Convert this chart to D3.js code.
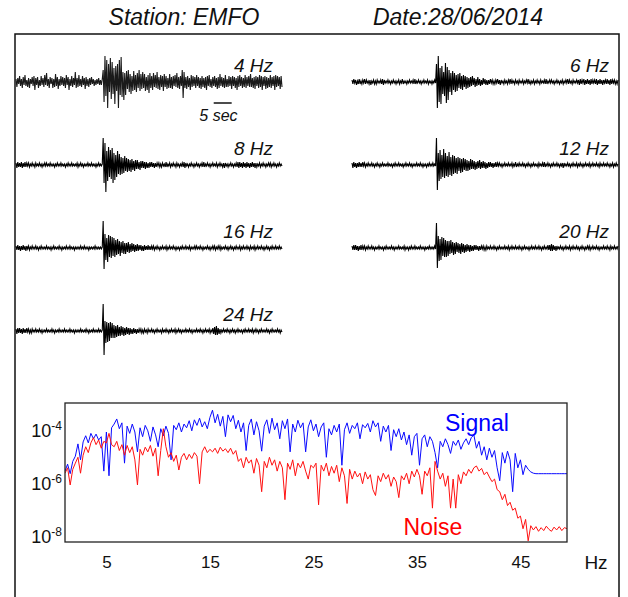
<!DOCTYPE html>
<html>
<head>
<meta charset="utf-8">
<script src="https://cdn.jsdelivr.net/npm/d3@7"></script>
<style>
  body { margin: 0; background: #fff; }
  text { font-family: 'Liberation Sans', Arial, sans-serif; }
</style>
</head>
<body>
<svg id="chart" width="628" height="597"></svg>
<script>
// ---- Record metadata ----
const station = "EMFO";
const recordDate = "28/06/2014";

// ---- Band-pass filtered seismograms (counts, 0.25 s sampling, 74 s window) ----
const sampleInterval = 0.25;
const windowLength = 74;

const trace4Hz = [
  3,-5,4,-2,6,-4,3,-6,5,-3,
  7,-4,2,-5,4,-6,3,-2,5,-4,
  6,-8,4,-3,5,-6,2,-4,6,-3,
  4,-5,7,-3,9,-4,3,-6,5,-2,
  4,-6,3,-5,8,-4,5,-7,3,-4,
  6,-3,5,-4,4,-6,7,-3,5,-8,
  3,-4,6,-5,4,-3,10,-6,4,-5,
  7,-4,3,-5,6,-3,4,-7,5,-4,
  3,-5,4,-3,5,-2,3,-4,2,-3,
  3,-2,4,-3,2,-3,3,
  12,-20,26,-14,22,-26,18,-10,24,-17,
  20,-12,14,-22,16,-9,18,-26,22,-13,
  25,-15,10,-18,
  9,-13,11,-7,12,-10,8,-12,6,-9,
  11,-8,7,-10,9,-6,12,-9,8,-7,
  10,-6,8,-9,5,-8,7,-11,9,-6,
  6,-8,9,-5,7,-6,10,-7,5,-8,
  7,-5,6,-9,8,-5,6,-7,4,-6,
  8,-6,5,-7,6,-4,7,-5,9,-6,
  5,-7,6,-4,12,-16,10,-6,5,-7,
  6,-5,4,-8,7,-5,6,-4,5,-6,
  7,-4,5,-6,4,-7,6,-5,4,-6,
  5,-8,6,-4,7,-5,3,-6,5,-4,
  6,-5,4,-7,5,-6,8,-4,5,-5,
  4,-6,7,-5,3,-5,6,-4,5,-7,
  6,-4,5,-6,4,-8,6,-5,7,-4,
  5,-6,4,-5,7,-6,5,-4,6,-5,
  8,-5,4,-6,5,-7,6,-4,5,-6,
  7,-5,6,-8,5,-4,6,-7,5,-6,
  4,-5,7,-6,5,-4,6,-8,7,-5,
  6,-4,5,-7,6,-5
];

const trace6Hz = [
  2,-2,3,-1,2,-3,1,-2,3,-2,
  1,-2,2,-1,3,-2,2,-1,1,-2,
  2,-3,1,-1,2,-2,1,-2,2,-1,
  1,-1,2,-2,3,-3,2,-1,1,-1,
  2,-1,1,-2,1,-1,2,-1,1,-2,
  1,-1,2,-2,1,-1,3,-2,1,-1,
  1,-2,1,-1,2,-1,1,-1,2,-2,
  3,-2,1,-1,2,-1,1,-2,1,-1,
  2,-1,1,-1,2,-2,1,-1,1,-2,
  1,-1,2,-1,
  18,-26,26,-20,14,-22,16,-12,10,-14,
  19,-21,15,-18,12,-10,9,-13,
  11,-8,9,-10,7,-9,8,-6,9,-7,
  6,-8,7,-5,6,-7,5,-6,4,-5,
  5,-4,6,-3,4,-5,3,-4,5,-3,
  3,-4,2,-3,4,-2,3,-3,2,-3,
  2,-2,3,-1,2,-2,1,-2,2,-1,
  3,-2,2,-3,2,-1,1,-2,2,-1,
  1,-2,2,-1,3,-2,2,-1,1,-2,
  2,-1,1,-2,2,-1,1,-1,2,-2,
  1,-1,2,-1,3,-2,1,-2,1,-1,
  2,-2,1,-1,2,-1,1,-2,2,-1,
  1,-1,2,-2,3,-2,1,-1,2,-1,
  2,-1,1,-2,1,-1,2,-1,1,-2,
  1,-1,2,-2,1,-1,2,-1,3,-2,
  2,-1,1,-2,2,-1,1,-1,2,-1,
  2,-3,3,-2,2,-1,3,-3,2,-2,
  3,-2,2,-3,3,-2,2,-1,2,-2,
  3,-3,2,-2,3,-2,2,-3,2,-1,
  2,-2,3,-2,2,-3,3,-2,2,-1,
  2,-2,1,-2,2
];

const trace8Hz = [
  2,-3,3,-2,2,-2,3,-3,2,-2,
  3,-2,2,-1,2,-2,1,-1,2,-1,
  1,-2,2,-1,1,-1,2,-1,1,-2,
  1,-1,2,-1,2,-1,1,-1,2,-1,
  1,-1,1,-2,1,-1,2,-1,1,-1,
  2,-1,1,-1,1,-2,1,-1,2,-1,
  1,-1,2,-1,1,-1,1,-1,2,-2,
  1,-1,2,-1,1,-2,1,-1,1,-1,
  2,-1,1,-1,2,-1,1,-1,1,-2,
  1,-1,2,-1,1,-1,1,
  27,-18,22,-27,14,-16,18,-12,15,-14,
  17,-18,12,-15,10,-12,14,-9,11,
  -10,8,-9,7,-8,9,-6,7,-7,6,
  -6,5,-7,6,-5,4,-6,5,-4,5,
  -4,3,-5,4,-3,4,-3,3,-4,3,
  -3,2,-3,3,-2,3,-2,2,-3,2,
  -2,2,-1,2,-2,1,-2,2,-1,1,
  -2,3,-2,1,-1,2,-2,1,-1,2,
  -1,1,-2,2,-1,1,-2,1,-1,2,
  -2,3,-3,2,-1,1,-2,1,-1,2,
  -1,1,-2,1,-1,2,-1,1,-2,1,
  -1,2,-2,3,-2,1,-1,2,-1,1,
  -2,1,-1,2,-1,1,-1,2,-2,1,
  -1,2,-1,1,-2,2,-3,2,-1,1,
  -2,1,-1,2,-1,1,-2,1,-1,2,
  -2,3,-3,3,-2,2,-3,3,-2,2,
  -3,3,-2,2,-3,2,-2,3,-2,2,
  -3,2,-2,1,-1,2,-2,1,-1,2,
  -1,1,-2,1,-1,2,-1,2,-2,1,
  -1,2,-1,1,-2,1,-1,2,-1,1,
  -1
];

const trace12Hz = [
  2,-3,3,-2,2,-3,2,-2,3,-2,
  2,-2,3,-1,2,-2,1,-1,2,-1,
  1,-1,2,-1,1,-2,1,-1,2,-1,
  1,-2,1,-1,2,-1,1,-1,1,-1,
  2,-1,1,-1,1,-2,1,-1,2,-1,
  1,-1,2,-1,1,-1,1,-2,1,-1,
  2,-1,1,-1,2,-1,1,-2,1,-1,
  1,-1,2,-1,1,-1,2,-1,1,-2,
  1,-1,1,-2,1,-1,2,-1,1,-1,
  2,-1,1,-1,
  27,-25,12,-16,15,-14,10,-12,16,-13,
  12,-11,9,-12,13,-10,8,-11,10,-9,
  9,-8,7,-9,8,-6,7,-8,6,-7,
  7,-5,6,-6,5,-6,4,-5,6,-4,
  5,-4,4,-5,3,-4,4,-3,5,-4,
  3,-3,4,-3,3,-4,2,-3,3,-2,
  3,-2,2,-3,2,-2,3,-2,2,-1,
  2,-1,1,-2,1,-1,2,-1,1,-1,
  2,-1,1,-1,2,-2,1,-1,3,-2,
  1,-1,2,-1,1,-1,2,-1,1,-2,
  1,-1,2,-1,1,-2,1,-1,2,-1,
  1,-1,1,-2,2,-1,1,-1,2,-2,
  3,-2,1,-1,2,-1,1,-2,1,-1,
  2,-1,1,-1,2,-1,1,-2,1,-1,
  2,-3,2,-1,1,-1,2,-1,1,-2,
  1,-1,2,-1,1,-1,2,-2,1,-1,
  2,-1,1,-2,1,-1,2,-1,1,-1,
  2,-2,1,-1,2,-1,1,-1,2,-1,
  1,-2,2,-1,1,-1,2,-1,1,-1,
  2,-1,1,-2,1,-1,2,-2,1,-1,
  2,-1,1
];

const trace16Hz = [
  2,-2,3,-2,2,-3,2,-2,3,-2,
  2,-3,2,-1,2,-2,1,-1,2,-1,
  1,-1,2,-1,1,-2,1,-1,2,-1,
  1,-1,1,-1,2,-1,1,-1,1,-2,
  1,-1,2,-1,1,-1,1,-1,2,-1,
  1,-2,1,-1,1,-1,2,-1,1,-1,
  2,-1,1,-1,1,-2,1,-1,1,-1,
  1,-1,2,-1,1,-1,2,-1,1,-1,
  1,-2,1,-1,1,-1,1,-1,2,-1,
  1,-1,1,-1,1,-1,1,
  27,-21,14,-12,10,-14,13,-9,12,-10,
  11,-8,10,-9,
  8,-7,9,-6,7,-8,6,-5,7,-6,
  5,-6,5,-4,6,-5,4,-4,5,-3,
  4,-4,3,-3,4,-3,3,-2,3,-3,
  2,-3,3,-2,2,-2,3,-2,2,-2,
  2,-1,2,-2,1,-1,2,-1,1,-2,
  1,-1,2,-1,1,-1,2,-2,1,-1,
  2,-1,1,-1,2,-1,1,-2,1,-1,
  1,-2,1,-1,2,-1,1,-1,2,-1,
  1,-1,2,-2,1,-1,1,-1,2,-1,
  2,-1,1,-1,2,-1,1,-2,1,-1,
  1,-1,2,-1,1,-2,1,-1,2,-1,
  2,-2,1,-1,2,-1,2,-2,1,-1,
  1,-1,2,-1,1,-2,1,-1,2,-1,
  1,-2,1,-1,2,-1,1,-1,2,-2,
  1,-1,2,-1,1,-1,2,-1,1,-2,
  2,-1,1,-1,2,-2,1,-1,2,-1,
  1,-1,2,-1,1,-2,1,-1,2,-1,
  1,-2,1,-1,2,-1,1,-1,2,-1,
  1,-1,2,-1,1,-1
];

const trace20Hz = [
  2,-2,3,-2,3,-2,2,-3,2,-2,
  3,-2,2,-1,2,-2,1,-1,2,-1,
  1,-1,2,-1,1,-2,1,-1,1,-1,
  2,-1,1,-1,1,-2,1,-1,2,-1,
  1,-1,1,-1,2,-1,1,-2,1,-1,
  1,-1,2,-1,1,-1,1,-1,2,-2,
  1,-1,1,-2,1,-1,2,-1,1,-1,
  2,-1,1,-1,1,-1,2,-1,1,-1,
  1,-2,1,-1,1,-1,2,-1,1,-1,
  1,-1,2,-1,
  25,-20,12,-13,9,-12,11,-8,10,-9,
  8,-9,7,-8,
  7,-6,8,-5,6,-7,5,-6,6,-4,
  5,-5,4,-6,5,-4,4,-5,3,-4,
  4,-3,3,-4,3,-3,2,-3,3,-2,
  3,-2,2,-3,2,-2,2,-1,2,-2,
  1,-2,2,-1,1,-1,2,-1,1,-1,
  2,-1,1,-2,1,-1,2,-1,1,-1,
  1,-1,2,-1,1,-1,2,-2,1,-1,
  2,-1,1,-1,2,-1,1,-1,2,-1,
  1,-2,1,-1,2,-1,1,-1,1,-2,
  1,-1,2,-1,1,-1,2,-1,1,-1,
  2,-1,1,-2,1,-1,2,-1,1,-1,
  3,-2,3,-3,4,-3,3,-2,2,-3,
  2,-1,1,-1,2,-1,1,-2,1,-1,
  2,-1,1,-1,2,-2,1,-1,2,-1,
  1,-1,2,-1,1,-2,1,-1,2,-1,
  1,-2,1,-1,2,-1,2,-2,1,-1,
  2,-1,1,-1,2,-1,1,-2,1,-1,
  1,-1,2,-1,1,-1,2,-1,1,-2,
  2,-1,1,-1,2,-1,1,-1,2
];

const trace24Hz = [
  2,-3,3,-2,3,-2,2,-3,3,-2,
  2,-2,3,-1,2,-2,1,-2,2,-1,
  1,-1,2,-1,1,-1,2,-1,1,-2,
  1,-1,1,-1,2,-1,1,-1,1,-1,
  2,-1,1,-2,1,-1,1,-1,2,-1,
  1,-1,1,-1,2,-1,1,-1,1,-1,
  2,-1,1,-1,1,-2,1,-1,1,-1,
  1,-1,2,-1,1,-1,1,-1,2,-1,
  1,-2,1,-1,1,-1,2,-1,1,-1,
  1,-1,2,-1,1,-1,1,
  27,-24,10,-12,9,-11,8,-10,9,-7,
  8,-7,
  6,-7,5,-6,6,-5,4,-5,5,-4,
  4,-5,3,-4,4,-3,3,-4,3,-3,
  2,-3,3,-2,2,-3,2,-2,2,-1,
  2,-2,1,-2,2,-1,1,-2,2,-1,
  1,-1,2,-1,1,-2,1,-1,2,-1,
  1,-1,1,-2,2,-1,1,-1,2,-1,
  1,-2,1,-1,2,-1,1,-1,2,-2,
  1,-1,2,-1,1,-2,1,-1,1,-1,
  2,-1,1,-1,2,-1,1,-2,1,-1,
  1,-1,2,-1,1,-1,2,-1,1,-2,
  1,-1,2,-1,1,-1,2,-2,1,-1,
  3,-3,4,-4,5,-4,3,-3,2,-2,
  1,-1,2,-1,1,-1,2,-1,1,-2,
  1,-1,2,-1,1,-2,1,-1,2,-1,
  1,-1,1,-2,1,-1,2,-1,1,-1,
  2,-1,1,-1,2,-2,1,-1,2,-1,
  1,-2,1,-1,2,-1,1,-1,1,-1,
  2,-1,1,-2,1,-1,2,-1,1,-1,
  1,-1,2,-1,1,-2,1,-1
];

// panel layout: column 0 = left, column 1 = right
const traceLabels = ["4 Hz", "8 Hz", "16 Hz", "24 Hz", "6 Hz", "12 Hz", "20 Hz"];
const traceData   = [trace4Hz, trace8Hz, trace16Hz, trace24Hz, trace6Hz, trace12Hz, trace20Hz];
const traceColumn = [0, 0, 0, 0, 1, 1, 1];
const traceRow    = [0, 1, 2, 3, 0, 1, 2];

// ---- Amplitude spectra (1 to 49.5 Hz, 0.25 Hz bins) ----
const freqStart = 1, freqStep = 0.25;
const signalSpectrum = [
  3.0e-6, 5.5e-6, 2.4e-6, 7.0e-6,
  1.1e-5, 3.2e-5, 8.0e-6, 3.8e-5,
  6.5e-5, 3.5e-5, 8.0e-5, 5.0e-5,
  7.5e-5, 4.5e-5, 6.0e-5, 3.0e-6,
  9.0e-5, 2.0e-6, 1.3e-4, 1.8e-4,
  2.8e-4, 1.2e-4, 2.0e-4, 6.0e-6,
  1.5e-4, 8.0e-5, 1.8e-4, 9.0e-5,
  1.6e-5, 1.3e-4, 6.0e-5, 1.6e-4,
  1.0e-4, 4.0e-5, 1.4e-4, 7.0e-5,
  2.5e-5, 1.2e-4, 6.5e-5, 1.5e-4,
  8.0e-5, 8.0e-6, 1.6e-4, 1.1e-4,
  2.0e-4, 9.0e-5, 1.8e-4, 1.3e-4,
  2.4e-4, 1.0e-4, 2.6e-4, 1.6e-4,
  3.0e-4, 1.4e-4, 2.2e-4, 1.2e-4,
  3.2e-4, 6.0e-4, 2.0e-4, 4.2e-4,
  1.5e-4, 3.5e-4, 6.0e-5, 4.0e-4,
  2.2e-4, 3.8e-4, 1.2e-4, 2.5e-4,
  9.0e-5, 2.0e-4, 1.8e-5, 1.6e-4,
  2.8e-4, 7.0e-5, 2.2e-4, 1.0e-4,
  1.7e-5, 1.5e-4, 2.6e-4, 8.0e-5,
  3.0e-4, 1.1e-4, 2.0e-4, 5.0e-5,
  2.4e-4, 1.2e-4, 2.8e-4, 1.6e-5,
  1.8e-4, 9.0e-5, 2.5e-4, 1.3e-4,
  2.0e-4, 1.6e-5, 1.4e-4, 2.6e-4,
  1.0e-4, 1.8e-4, 6.0e-5, 1.4e-4,
  2.0e-4, 1.0e-5, 1.2e-4, 7.0e-5,
  1.6e-4, 9.0e-5, 1.8e-4, 5.0e-6,
  1.1e-4, 2.0e-4, 8.0e-5, 1.6e-4,
  1.2e-4, 2.0e-4, 5.0e-5, 1.7e-4,
  1.3e-4, 1.9e-4, 9.0e-5, 2.4e-4,
  1.4e-4, 2.0e-4, 4.0e-5, 1.5e-4,
  9.0e-5, 1.6e-4, 1.8e-5, 1.1e-4,
  6.0e-5, 1.2e-4, 4.5e-5, 9.0e-5,
  3.0e-5, 7.0e-5, 1.2e-5, 6.0e-5,
  8.0e-5, 5.0e-6, 5.0e-5, 7.0e-5,
  2.5e-5, 6.0e-5, 4.0e-5, 1.5e-5,
  4.0e-6, 4.0e-5, 2.5e-5, 5.0e-5,
  3.0e-5, 1.4e-5, 4.0e-5, 2.8e-5,
  4.5e-5, 2.0e-5, 3.5e-5, 5.0e-5,
  3.0e-5, 5.5e-5, 7.0e-5, 2.2e-5,
  4.0e-5, 1.2e-5, 2.5e-5, 8.0e-6,
  2.2e-5, 1.0e-5, 1.8e-5, 4.0e-6,
  1.3e-6, 1.5e-5, 6.0e-6, 1.7e-5,
  8.0e-6, 5.0e-7, 1.4e-5, 4.0e-6,
  8.0e-6, 2.2e-6, 5.0e-6, 3.5e-6,
  2.8e-6, 2.5e-6, 2.4e-6, 2.4e-6,
  2.4e-6, 2.4e-6, 2.4e-6, 2.4e-6,
  2.4e-6, 2.4e-6, 2.4e-6, 2.4e-6,
  2.4e-6, 2.4e-6, 2.4e-6
];
const noiseSpectrum = [
  2.5e-6, 4.0e-6, 9.0e-7, 3.5e-6,
  6.0e-6, 1.0e-5, 2.5e-6, 1.2e-5,
  2.5e-5, 1.5e-5, 3.5e-5, 5.5e-5,
  3.0e-5, 4.5e-5, 2.2e-5, 4.0e-5,
  3.5e-5, 8.0e-5, 3.0e-5, 2.5e-5,
  4.0e-5, 1.8e-5, 3.0e-5, 1.2e-5,
  2.8e-5, 1.5e-5, 2.5e-5, 8.0e-6,
  9.0e-7, 2.0e-5, 1.2e-5, 2.4e-5,
  1.6e-5, 2.8e-5, 1.1e-5, 2.2e-5,
  2.0e-6, 1.8e-5, 1.2e-4, 2.5e-5,
  1.0e-5, 1.5e-5, 7.0e-6, 1.2e-5,
  3.3e-6, 1.0e-5, 1.4e-5, 8.0e-6,
  1.3e-5, 9.0e-6, 1.5e-5, 1.1e-5,
  1.0e-6, 1.6e-5, 2.5e-5, 1.5e-5,
  2.0e-5, 1.6e-5, 2.2e-5, 1.4e-5,
  2.4e-5, 1.7e-5, 2.1e-5, 1.5e-5,
  2.2e-5, 1.3e-5, 1.8e-5, 7.0e-6,
  9.0e-6, 4.0e-6, 1.0e-5, 6.0e-6,
  8.0e-6, 2.5e-6, 9.0e-6, 5.0e-6,
  5.0e-7, 7.0e-6, 4.0e-6, 1.0e-5,
  5.0e-6, 8.0e-6, 3.0e-6, 7.0e-6,
  4.0e-6, 2.5e-7, 6.0e-6, 3.5e-6,
  8.0e-6, 2.0e-6, 6.0e-6, 4.0e-6,
  7.0e-6, 3.0e-6, 1.5e-6, 5.0e-6,
  4.0e-6, 6.0e-6, 1.6e-7, 5.0e-6,
  3.0e-6, 6.0e-6, 2.0e-6, 4.5e-6,
  2.5e-6, 5.0e-6, 1.2e-6, 4.0e-6,
  2.0e-6, 1.8e-7, 3.5e-6, 1.5e-6,
  3.0e-6, 1.8e-6, 2.5e-6, 1.0e-6,
  2.8e-6, 1.5e-6, 2.2e-6, 6.0e-7,
  3.6e-7, 2.0e-6, 1.2e-6, 2.5e-6,
  1.5e-6, 2.2e-6, 8.0e-7, 1.8e-6,
  1.2e-6, 3.0e-7, 2.0e-6, 1.4e-6,
  2.5e-6, 1.0e-6, 3.0e-6, 1.8e-6,
  3.5e-6, 2.0e-6, 4.0e-7, 3.0e-6,
  2.0e-6, 4.0e-6, 1.2e-7, 7.0e-6,
  3.0e-6, 1.5e-6, 2.5e-6, 8.0e-7,
  2.0e-6, 1.2e-7, 1.5e-6, 1.2e-7,
  2.2e-6, 1.0e-6, 2.8e-6, 2.0e-6,
  3.5e-6, 2.5e-6, 4.0e-6, 4.7e-6,
  3.0e-6, 3.8e-6, 2.2e-6, 2.8e-6,
  1.8e-6, 1.2e-6, 1.5e-6, 6.0e-7,
  5.0e-7, 2.5e-7, 4.0e-7, 1.5e-7,
  2.0e-7, 1.0e-7, 1.2e-7, 5.0e-8,
  6.0e-8, 2.0e-8, 4.5e-8, 7.0e-9,
  2.6e-8, 1.8e-8, 2.4e-8, 1.6e-8,
  2.2e-8, 1.7e-8, 2.5e-8, 1.9e-8,
  1.6e-8, 2.3e-8, 1.8e-8, 2.4e-8,
  1.7e-8, 2.2e-8, 2.0e-8
];
const freqTicks = [5, 15, 25, 35, 45];
const ampTicks = [1e-4, 1e-6, 1e-8];

// ---------------------------------------------------------------
const svg = d3.select("#chart");

// outer frame (open at the bottom)
svg.append("path")
  .attr("d", "M15,597V34H619V597")
  .attr("fill", "none")
  .attr("stroke", "#111")
  .attr("stroke-width", 1.5);

// header
svg.append("text").attr("x", 184).attr("y", 25)
  .attr("text-anchor", "middle").attr("font-size", 23).attr("font-style", "italic")
  .attr("fill", "#111").text("Station: " + station);
svg.append("text").attr("x", 458).attr("y", 25)
  .attr("text-anchor", "middle").attr("font-size", 23).attr("font-style", "italic")
  .attr("fill", "#111").text("Date:" + recordDate);

// ---- seismogram panels ----
const colLeft = [16, 352];
const traceWidth = 266;
const rowBase = [82, 165, 248, 331];
const ampHalf = 30;

traceData.forEach((data, k) => {
  const x0 = colLeft[traceColumn[k]];
  const base = rowBase[traceRow[k]];
  const x = d3.scaleLinear().domain([0, windowLength]).range([x0, x0 + traceWidth]);
  const y = d3.scaleLinear().domain([-ampHalf, ampHalf]).range([base + ampHalf, base - ampHalf]);
  const line = d3.line().x((d, i) => x(i * sampleInterval)).y(d => y(d));
  const g = svg.append("g").attr("class", "trace");
  g.append("path").datum(data)
    .attr("d", line)
    .attr("fill", "none")
    .attr("stroke", k === 0 ? "#1a1a1a" : "#000")
    .attr("stroke-width", 1.1);
  g.append("text")
    .attr("x", x0 + 257).attr("y", base - 10)
    .attr("text-anchor", "end").attr("font-size", 19).attr("font-style", "italic")
    .attr("fill", "#111").text(traceLabels[k]);

  // time scale bar under the first trace
  if (k === 0) {
    const barStart = 55, barLen = 5;
    g.append("line")
      .attr("x1", x(barStart)).attr("x2", x(barStart + barLen))
      .attr("y1", base + 21).attr("y2", base + 21)
      .attr("stroke", "#111").attr("stroke-width", 1.5);
    g.append("text")
      .attr("x", x(barStart - 4)).attr("y", base + 39)
      .attr("font-size", 16).attr("font-style", "italic").attr("fill", "#111")
      .text(barLen + " sec");
  }
});

// ---- spectrum panel ----
const box = { left: 65, top: 403, right: 567, bottom: 542 };
const xS = d3.scaleLinear().domain([1, 49.5]).range([box.left, box.right]);
const yS = d3.scaleLog().domain([Math.pow(10, -8.2), Math.pow(10, -2.95)]).range([box.bottom, box.top]);
const freqs = signalSpectrum.map((_, i) => freqStart + i * freqStep);

svg.append("clipPath").attr("id", "specClip")
  .append("rect")
  .attr("x", box.left).attr("y", box.top)
  .attr("width", box.right - box.left).attr("height", box.bottom - box.top);

const specLine = d3.line().x((d, i) => xS(freqs[i])).y(d => yS(d));
const spec = svg.append("g").attr("clip-path", "url(#specClip)");
spec.append("path").datum(signalSpectrum)
  .attr("d", specLine).attr("fill", "none")
  .attr("stroke", "#0a0aff").attr("stroke-width", 1);
spec.append("path").datum(noiseSpectrum)
  .attr("d", specLine).attr("fill", "none")
  .attr("stroke", "#ff1010").attr("stroke-width", 1);

svg.append("rect")
  .attr("x", box.left).attr("y", box.top)
  .attr("width", box.right - box.left).attr("height", box.bottom - box.top)
  .attr("fill", "none").attr("stroke", "#222").attr("stroke-width", 1.3);

// frequency axis
const xAxis = svg.append("g")
  .attr("transform", `translate(0,${box.bottom})`)
  .call(d3.axisBottom(xS).tickValues(freqTicks).tickSize(0).tickPadding(14));
xAxis.select(".domain").remove();
xAxis.selectAll("text")
  .attr("font-size", 17).attr("fill", "#111")
  .style("font-family", "'Liberation Sans', Arial, sans-serif");

svg.append("text").attr("x", 596).attr("y", 569)
  .attr("text-anchor", "middle").attr("font-size", 19).attr("fill", "#111").text("Hz");

// amplitude axis with power-of-ten labels
const yAxis = svg.append("g")
  .attr("transform", `translate(${box.left},0)`)
  .call(d3.axisLeft(yS).tickValues(ampTicks).tickSize(0).tickPadding(3).tickFormat(() => ""));
yAxis.select(".domain").remove();
yAxis.selectAll(".tick text").each(function (d) {
  const t = d3.select(this)
    .attr("font-size", 18).attr("fill", "#111").attr("dy", "0.34em")
    .style("font-family", "'Liberation Sans', Arial, sans-serif");
  t.text(null);
  t.append("tspan").text("10");
  t.append("tspan").attr("font-size", 12).attr("dy", -7).text(String(Math.round(Math.log10(d))));
});

// series labels
svg.append("text").attr("x", 477).attr("y", 431)
  .attr("text-anchor", "middle").attr("font-size", 23).attr("fill", "#0000ff").text("Signal");
svg.append("text").attr("x", 433).attr("y", 535)
  .attr("text-anchor", "middle").attr("font-size", 23).attr("fill", "#ff0000").text("Noise");
</script>
</body>
</html>
